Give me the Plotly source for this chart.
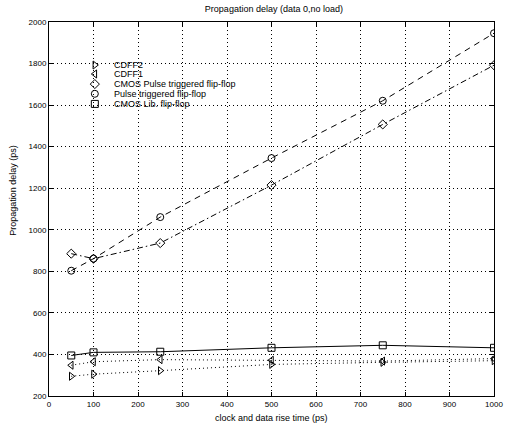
import plotly.graph_objects as go

# Rise time of clock and data (ps)
rise_time = [50, 100, 250, 500, 750, 1000]

# Propagation delay (ps) for each flip-flop
cdff2 = [295, 305, 322, 352, 362, 370]
cdff1 = [348, 365, 375, 372, 368, 380]
cmos_pulse = [885, 861, 936, 1215, 1507, 1792]
pulse_trig = [803, 861, 1061, 1345, 1621, 1946]
cmos_lib = [395, 410, 413, 432, 444, 432]

series = [
    ("CDFF2", cdff2, "triangle-right-open", "1px,3px"),
    ("CDFF1", cdff1, "triangle-left-open", "1px,3px"),
    ("CMOS Pulse triggered flip-flop", cmos_pulse, "diamond-open", "6px,3px,1.5px,3px"),
    ("Pulse triggered flip-flop", pulse_trig, "circle-open", "6px,5px"),
    ("CMOS Lib. flip-flop", cmos_lib, "square-open", "solid"),
]

x_ticks = [0, 100, 200, 300, 400, 500, 600, 700, 800, 900, 1000]
y_ticks = [200, 400, 600, 800, 1000, 1200, 1400, 1600, 1800, 2000]

FONT = "Liberation Sans, Arial, sans-serif"

fig = go.Figure()
for name, vals, sym, dash in series:
    fig.add_trace(go.Scatter(
        x=rise_time, y=vals, mode="lines+markers", name=name,
        line=dict(color="black", width=1, dash=dash),
        marker=dict(symbol=sym, size=7, color="black", line=dict(width=1, color="black")),
        showlegend=False,
    ))

# Hand-built compact legend in the upper-left of the axes
leg_rows = [0.885, 0.861, 0.834, 0.808, 0.781]
for (name, vals, sym, dash), yy in zip(series, leg_rows):
    fig.add_trace(go.Scatter(
        x=[0.103], y=[yy], xaxis="x2", yaxis="y2", mode="markers",
        marker=dict(symbol=sym, size=7, color="black", line=dict(width=1, color="black")),
        showlegend=False, hoverinfo="skip",
    ))
    fig.add_annotation(x=0.141, y=yy, xref="paper", yref="paper", text=name,
                       showarrow=False, xanchor="left", yanchor="middle",
                       font=dict(family=FONT, size=9, color="black"))

axis_common = dict(
    showline=True, linecolor="black", linewidth=1, mirror="ticks",
    ticks="inside", ticklen=4, tickcolor="black",
    showgrid=True, gridcolor="black", gridwidth=1, griddash="1px,3px",
    zeroline=False, tickfont=dict(family=FONT, size=8, color="black"),
    ticklabeloverflow="allow",
)

fig.update_layout(
    width=512, height=424,
    margin=dict(l=49, r=9, t=22, b=28),
    paper_bgcolor="white", plot_bgcolor="white",
    font=dict(family=FONT, size=9, color="black"),
    title=dict(text="Propagation delay (data 0,no load)", x=0.535, xanchor="center",
               y=0.978, yanchor="middle", font=dict(family=FONT, size=9, color="black")),
    xaxis=dict(range=[0, 1000], tickvals=x_ticks, **axis_common),
    yaxis=dict(range=[200, 2000], tickvals=y_ticks, **axis_common),
    xaxis2=dict(range=[0, 1], overlaying="x", visible=False),
    yaxis2=dict(range=[0, 1], overlaying="y", visible=False),
    showlegend=False,
)

fig.add_annotation(x=0.5, y=-0.06, xref="paper", yref="paper",
                   text="clock and data rise time (ps)", showarrow=False,
                   xanchor="center", yanchor="middle",
                   font=dict(family=FONT, size=9, color="black"))
fig.add_annotation(x=-0.08, y=0.55, xref="paper", yref="paper",
                   text="Propagation delay (ps)", showarrow=False, textangle=-90,
                   xanchor="center", yanchor="middle",
                   font=dict(family=FONT, size=9, color="black"))

fig.write_html("out.html")
